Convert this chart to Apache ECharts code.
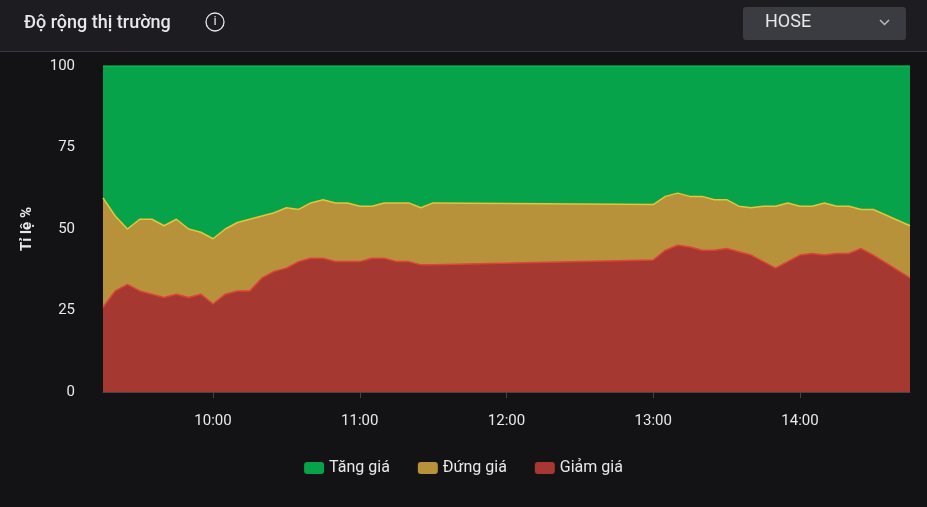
<!DOCTYPE html>
<html>
<head>
<meta charset="utf-8">
<script src="https://cdn.jsdelivr.net/npm/echarts@6/dist/echarts.min.js"></script>
<style>
html,body{margin:0;padding:0;background:#131316;}
#chart{width:927px;height:507px;}
</style>
</head>
<body>
<div id="chart"></div>
<script>
// minutes since midnight
var times = [555,560,565,570,575,580,585,590,595,600,605,610,615,620,625,630,635,640,645,650,655,660,665,670,675,680,685,690,
             780,785,790,795,800,805,810,815,820,825,830,835,840,845,850,855,860,865,870,885];
// top of "Giảm giá" band (%)
var giamTop = [26,31,33,31,30,29,30,29,30,27,30,31,31,35,37,38,40,41,41,40,40,40,41,41,40,40,39,39,
               40.5,43.5,45,44.5,43.5,43.5,44,43,42,40,38,40,42,42.5,42,42.5,42.5,44,42,35];
// top of "Đứng giá" band (%)
var dungTop = [59.5,54,50,53,53,51,53,50,49,47,50,52,53,54,55,56.5,56,58,59,58,58,57,57,58,58,58,56.5,58,
               57.5,60,61,60,60,59,59,57,56.5,57,57,58,57,57,58,57,57,56,56,51];
var xTicks = [600,660,720,780,840];

// bands are drawn as cumulative tops, painted from the top band down
var giam = [], dung = [], tang = [];
for (var i = 0; i < times.length; i++) {
    giam.push([times[i], giamTop[i]]);
    dung.push([times[i], dungTop[i]]);
    tang.push([times[i], 100]);
}

var chart = echarts.init(document.getElementById('chart'));
var fmt = function (v) {
    var h = Math.floor(v / 60), m = v % 60;
    return (h < 10 ? '0' + h : h) + ':' + (m < 10 ? '0' + m : m);
};
var mkSeries = function (name, data, fill, line, z) {
    return {
        name: name, type: 'line', data: data, symbol: 'none', z: z,
        lineStyle: {color: line, width: 1.5}, itemStyle: {color: fill},
        areaStyle: {color: fill, opacity: 1, origin: 'start'}
    };
};
chart.setOption({
    backgroundColor: '#131316',
    animation: false,
    textStyle: {fontFamily: 'Roboto'},
    graphic: [
        {type: 'rect', shape: {x: 0, y: 0, width: 927, height: 51}, style: {fill: '#1c1c21'}},
        {type: 'rect', shape: {x: 0, y: 51, width: 927, height: 1}, style: {fill: '#3a3a40'}},
        {type: 'text', x: 24, y: 14, style: {text: 'Độ rộng thị trường', fill: '#e8e8e8', font: '500 18px Roboto'}},
        {type: 'circle', shape: {cx: 215, cy: 22, r: 9}, style: {fill: 'none', stroke: '#e8e8e8', lineWidth: 1.3}},
        {type: 'text', x: 215, y: 15, style: {text: 'i', fill: '#e8e8e8', font: '13px Roboto', align: 'center'}},
        {type: 'rect', shape: {x: 743, y: 7, width: 163, height: 33, r: 3}, style: {fill: '#3b3b42'}},
        {type: 'text', x: 765, y: 13, style: {text: 'HOSE', fill: '#e8e8e8', font: '18px Roboto'}},
        {type: 'polyline', shape: {points: [[880, 20], [884.5, 24.5], [889, 20]]}, style: {stroke: '#bbbbbb', lineWidth: 1.5, fill: 'none'}}
    ],
    legend: {
        bottom: 26, left: 'center', itemGap: 28, itemWidth: 20, itemHeight: 12, icon: 'roundRect',
        textStyle: {color: '#e8e8e8', fontSize: 16},
        data: ['Tăng giá', 'Đứng giá', 'Giảm giá']
    },
    grid: {left: 103, right: 17, top: 66, bottom: 115},
    xAxis: {
        type: 'value', min: 555, max: 885,
        axisLine: {lineStyle: {color: '#444'}},
        axisTick: {show: true, customValues: xTicks, length: 6, lineStyle: {color: '#444'}},
        axisLabel: {customValues: xTicks, formatter: fmt, color: '#e8e8e8', fontSize: 15, margin: 22},
        splitLine: {show: false}
    },
    yAxis: {
        type: 'value', min: 0, max: 100, interval: 25,
        name: 'Tỉ lệ %', nameLocation: 'middle', nameGap: 68, nameRotate: 90,
        nameTextStyle: {color: '#e8e8e8', fontSize: 15, fontWeight: 'bold'},
        axisLine: {show: false}, axisTick: {show: false},
        axisLabel: {color: '#e8e8e8', fontSize: 15, margin: 28},
        splitLine: {show: false}
    },
    series: [
        mkSeries('Tăng giá', tang, '#07a34b', '#0bbf55', 2),
        mkSeries('Đứng giá', dung, '#b7923a', '#e6c43c', 3),
        mkSeries('Giảm giá', giam, '#a63832', '#dd4437', 4)
    ]
});
</script>
</body>
</html>
